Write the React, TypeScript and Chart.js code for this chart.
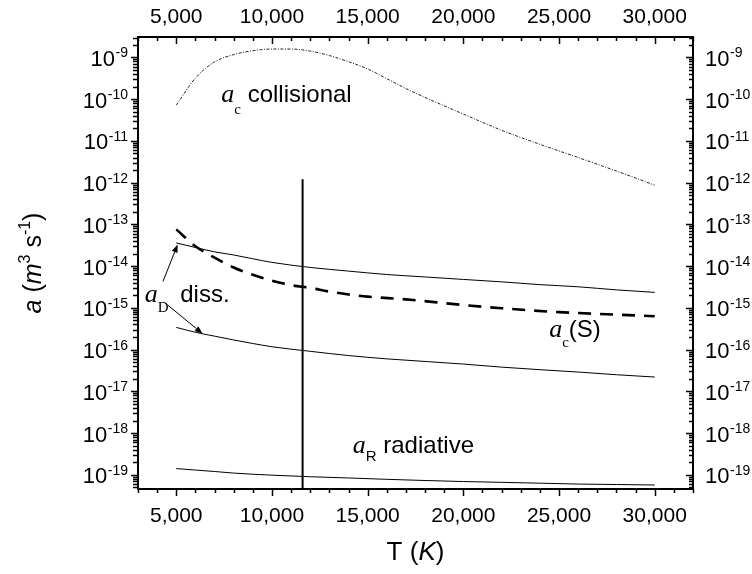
import React, { useEffect, useRef } from 'react';
import { Chart, registerables } from 'chart.js';

Chart.register(...registerables);

// ---------- data ----------
const COLL_T = [5000, 6000, 7000, 8000, 9000, 10000, 11000, 12000, 13000, 14000, 15000, 16000, 17000, 18000, 20000, 22000, 24000, 26000, 28000, 30000];
const COLL_A = [7.2e-11, 3.2e-10, 7.8e-10, 1.17e-9, 1.45e-9, 1.59e-9, 1.59e-9, 1.42e-9, 1.11e-9, 7.9e-10, 5.3e-10, 3.1e-10, 1.8e-10, 1.1e-10, 4.4e-11, 1.8e-11, 8.3e-12, 4.0e-12, 1.9e-12, 8.7e-13];

const SC_T = [5000, 6000, 7000, 8000, 9000, 10000, 11000, 12000, 13000, 14000, 15000, 17000, 20000, 22000, 25000, 28000, 30000];
const SC_A = [7.6e-14, 3.0e-14, 1.6e-14, 9.3e-15, 6.2e-15, 4.5e-15, 3.5e-15, 3.0e-15, 2.45e-15, 2.1e-15, 1.86e-15, 1.6e-15, 1.17e-15, 9.8e-16, 7.9e-16, 6.9e-16, 6.3e-16];

const DISS_T = [5000, 6000, 7000, 8000, 9000, 10000, 12000, 14000, 16000, 18000, 20000, 22000, 24000, 26000, 28000, 30000];
const DISS_UPPER_A = [3.6e-14, 2.8e-14, 2.2e-14, 1.85e-14, 1.5e-14, 1.23e-14, 9.3e-15, 7.6e-15, 6.3e-15, 5.5e-15, 4.8e-15, 4.2e-15, 3.6e-15, 3.2e-15, 2.7e-15, 2.35e-15];
const DISS_LOWER_A = [3.4e-16, 2.6e-16, 2.1e-16, 1.7e-16, 1.4e-16, 1.17e-16, 9.1e-17, 7.2e-17, 6.0e-17, 5.2e-17, 4.5e-17, 3.8e-17, 3.3e-17, 2.9e-17, 2.5e-17, 2.2e-17];

const RAD_T = [5000, 6000, 7000, 8000, 10000, 12000, 14000, 16000, 18000, 20000, 22000, 24000, 26000, 28000, 30000];
const RAD_A = [1.41e-19, 1.3e-19, 1.2e-19, 1.1e-19, 9.8e-20, 9.0e-20, 8.4e-20, 7.8e-20, 7.3e-20, 6.9e-20, 6.6e-20, 6.3e-20, 6.0e-20, 5.85e-20, 5.7e-20];

const VLINE_T = 11600;
const VLINE_TOP = 1.2e-12;

// ---------- axes ----------
const X_MIN = 3000;
const X_MAX = 32000;
const Y_MIN = Math.pow(10, -19.34);
const Y_MAX = Math.pow(10, -8.51);
const X_MAJOR_TICKS = [5000, 10000, 15000, 20000, 25000, 30000];
const X_TICK_LABELS = ['5,000', '10,000', '15,000', '20,000', '25,000', '30,000'];
const X_MINOR_STEP = 1000;
const Y_DECADES = [-9, -10, -11, -12, -13, -14, -15, -16, -17, -18, -19];

// ---------- annotations ----------
const ANNOTATIONS = [
  { x: 7353, y: 8.7e-11, main: 'a', sub: 'c', subSans: false, subDy: 12, rest: ' collisional', restDx: 0 },
  { x: 3350, y: 1.41e-15, main: 'a', sub: 'D', subSans: false, subDy: 10, rest: ' diss.', restDx: 5 },
  { x: 24487, y: 2.04e-16, main: 'a', sub: 'c', subSans: false, subDy: 10, rest: '(S)', restDx: 0 },
  { x: 14222, y: 3.39e-19, main: 'a', sub: 'R', subSans: true, subDy: 8, rest: ' radiative', restDx: 0 },
];
const ARROWS = [
  { x0: 4305, y0: 4.3e-15, x1: 5072, y1: 3.3e-14 },
  { x0: 4550, y0: 1.17e-15, x1: 6377, y1: 2.4e-16 },
];

const SANS = "'Liberation Sans', Arial, sans-serif";
const SERIF = "'Liberation Serif', 'Times New Roman', serif";

type Part = { text: string; font: string; dy?: number; dx?: number };

function drawRich(ctx: CanvasRenderingContext2D, parts: Part[], x: number, y: number, align: 'left' | 'center' | 'right') {
  let total = 0;
  const widths = parts.map((p) => {
    ctx.font = p.font;
    const w = ctx.measureText(p.text).width + (p.dx || 0);
    total += w;
    return w;
  });
  let cx = align === 'left' ? x : align === 'center' ? x - total / 2 : x - total;
  ctx.textAlign = 'left';
  ctx.textBaseline = 'alphabetic';
  parts.forEach((p, i) => {
    ctx.font = p.font;
    ctx.fillText(p.text, cx + (p.dx || 0), y + (p.dy || 0));
    cx += widths[i];
  });
}

const axesPlugin = {
  id: 'customAxes',
  afterDatasetsDraw(chart: any) {
    const { ctx, chartArea: a, scales } = chart;
    const xs = scales.x;
    const ys = scales.y;
    ctx.save();
    ctx.fillStyle = '#000';
    ctx.strokeStyle = '#000';

    // ticks
    ctx.lineWidth = 1.5;
    ctx.beginPath();
    for (let t = X_MIN; t <= X_MAX; t += X_MINOR_STEP) {
      const px = Math.round(xs.getPixelForValue(t)) + 0.5;
      const L = X_MAJOR_TICKS.includes(t) ? 7 : 4;
      ctx.moveTo(px, a.bottom);
      ctx.lineTo(px, a.bottom + L);
      ctx.moveTo(px, a.top);
      ctx.lineTo(px, a.top + L);
    }
    for (let d = -20; d <= -8; d++) {
      for (let m = 1; m <= 9; m++) {
        const v = m * Math.pow(10, d);
        if (v < Y_MIN || v > Y_MAX) continue;
        const py = Math.round(ys.getPixelForValue(v)) + 0.5;
        const L = m === 1 ? 7 : 4;
        ctx.moveTo(a.left, py);
        ctx.lineTo(a.left - L - (m === 1 ? 0 : 1), py);
        ctx.moveTo(a.right, py);
        ctx.lineTo(a.right - L, py);
      }
    }
    ctx.stroke();

    // frame
    ctx.lineWidth = 2;
    ctx.strokeRect(a.left, a.top, a.right - a.left, a.bottom - a.top);

    // x tick labels
    ctx.font = `21px ${SANS}`;
    ctx.textAlign = 'center';
    ctx.textBaseline = 'alphabetic';
    X_MAJOR_TICKS.forEach((t, i) => {
      const px = xs.getPixelForValue(t);
      ctx.fillText(X_TICK_LABELS[i], px, a.bottom + 33);
      ctx.fillText(X_TICK_LABELS[i], px, a.top - 14);
    });

    // y tick labels
    Y_DECADES.forEach((d) => {
      const py = ys.getPixelForValue(Math.pow(10, d));
      const parts: Part[] = [
        { text: '10', font: `22px ${SANS}`, dy: 8.5 },
        { text: '-' + Math.abs(d), font: `14px ${SANS}`, dy: 0, dx: 0.5 },
      ];
      drawRich(ctx, parts, a.left - 10, py, 'right');
      drawRich(ctx, parts, a.right + 12, py, 'left');
    });

    // axis titles
    drawRich(
      ctx,
      [
        { text: 'T (', font: `26px ${SANS}` },
        { text: 'K', font: `italic 26px ${SANS}` },
        { text: ')', font: `26px ${SANS}` },
      ],
      (a.left + a.right) / 2,
      a.bottom + 71,
      'center'
    );
    ctx.save();
    ctx.translate(41, (a.top + a.bottom) / 2);
    ctx.rotate(-Math.PI / 2);
    drawRich(
      ctx,
      [
        { text: 'a', font: `italic 25px ${SANS}` },
        { text: ' (', font: `25px ${SANS}` },
        { text: 'm', font: `italic 25px ${SANS}` },
        { text: '3', font: `16px ${SANS}`, dy: -11 },
        { text: ' s', font: `25px ${SANS}` },
        { text: '-1', font: `16px ${SANS}`, dy: -11 },
        { text: ')', font: `25px ${SANS}` },
      ],
      0,
      0,
      'center'
    );
    ctx.restore();

    // annotations
    ANNOTATIONS.forEach((an) => {
      const px = xs.getPixelForValue(an.x);
      const py = ys.getPixelForValue(an.y);
      drawRich(
        ctx,
        [
          { text: an.main, font: `italic 26px ${SERIF}` },
          { text: an.sub, font: `15px ${an.subSans ? SANS : SERIF}`, dy: an.subDy },
          { text: an.rest, font: `24px ${SANS}`, dx: an.restDx },
        ],
        px,
        py,
        'left'
      );
    });

    // arrows
    ctx.lineWidth = 1;
    ARROWS.forEach((ar) => {
      const x0 = xs.getPixelForValue(ar.x0);
      const y0 = ys.getPixelForValue(ar.y0);
      const x1 = xs.getPixelForValue(ar.x1);
      const y1 = ys.getPixelForValue(ar.y1);
      const ang = Math.atan2(y1 - y0, x1 - x0);
      const hl = 8;
      const hw = 3;
      const bx = x1 - hl * Math.cos(ang);
      const by = y1 - hl * Math.sin(ang);
      ctx.beginPath();
      ctx.moveTo(x0, y0);
      ctx.lineTo(bx, by);
      ctx.stroke();
      ctx.beginPath();
      ctx.moveTo(x1, y1);
      ctx.lineTo(bx + hw * Math.sin(ang), by - hw * Math.cos(ang));
      ctx.lineTo(bx - hw * Math.sin(ang), by + hw * Math.cos(ang));
      ctx.closePath();
      ctx.fill();
    });

    ctx.restore();
  },
};

function pts(xs: number[], ys: number[]) {
  return xs.map((x, i) => ({ x, y: ys[i] }));
}

export default function App() {
  const ref = useRef<HTMLCanvasElement | null>(null);

  useEffect(() => {
    document.body.style.margin = '0';
    const canvas = ref.current;
    if (!canvas) return;
    const base = {
      pointRadius: 0,
      borderColor: '#000',
      backgroundColor: '#000',
      fill: false,
      cubicInterpolationMode: 'monotone' as const,
    };
    const chart = new Chart(canvas, {
      type: 'line',
      data: {
        datasets: [
          { ...base, label: 'collisional', data: pts(COLL_T, COLL_A), borderWidth: 1, borderDash: [3, 1.5, 1, 1.5], borderColor: '#222' },
          { ...base, label: 'ac(S)', data: pts(SC_T, SC_A), borderWidth: 2.6, borderDash: [13, 9] },
          { ...base, label: 'diss upper', data: pts(DISS_T, DISS_UPPER_A), borderWidth: 1 },
          { ...base, label: 'diss lower', data: pts(DISS_T, DISS_LOWER_A), borderWidth: 1 },
          { ...base, label: 'radiative', data: pts(RAD_T, RAD_A), borderWidth: 1 },
          { ...base, label: 'T = 1 eV', data: [{ x: VLINE_T, y: VLINE_TOP }, { x: VLINE_T, y: Y_MIN }], borderWidth: 2, tension: 0, cubicInterpolationMode: 'default' as const },
        ],
      },
      options: {
        animation: false,
        responsive: false,
        devicePixelRatio: 1,
        parsing: false as any,
        layout: { padding: { left: 138, right: 59, top: 37, bottom: 85 } },
        scales: {
          x: { type: 'linear', min: X_MIN, max: X_MAX, display: false },
          y: { type: 'logarithmic', min: Y_MIN, max: Y_MAX, display: false },
        },
        plugins: { legend: { display: false }, tooltip: { enabled: false } },
        elements: { line: { borderCapStyle: 'butt' } },
      },
      plugins: [axesPlugin],
    });
    return () => chart.destroy();
  }, []);

  return <canvas ref={ref} width={752} height={574} style={{ display: 'block' }} />;
}
